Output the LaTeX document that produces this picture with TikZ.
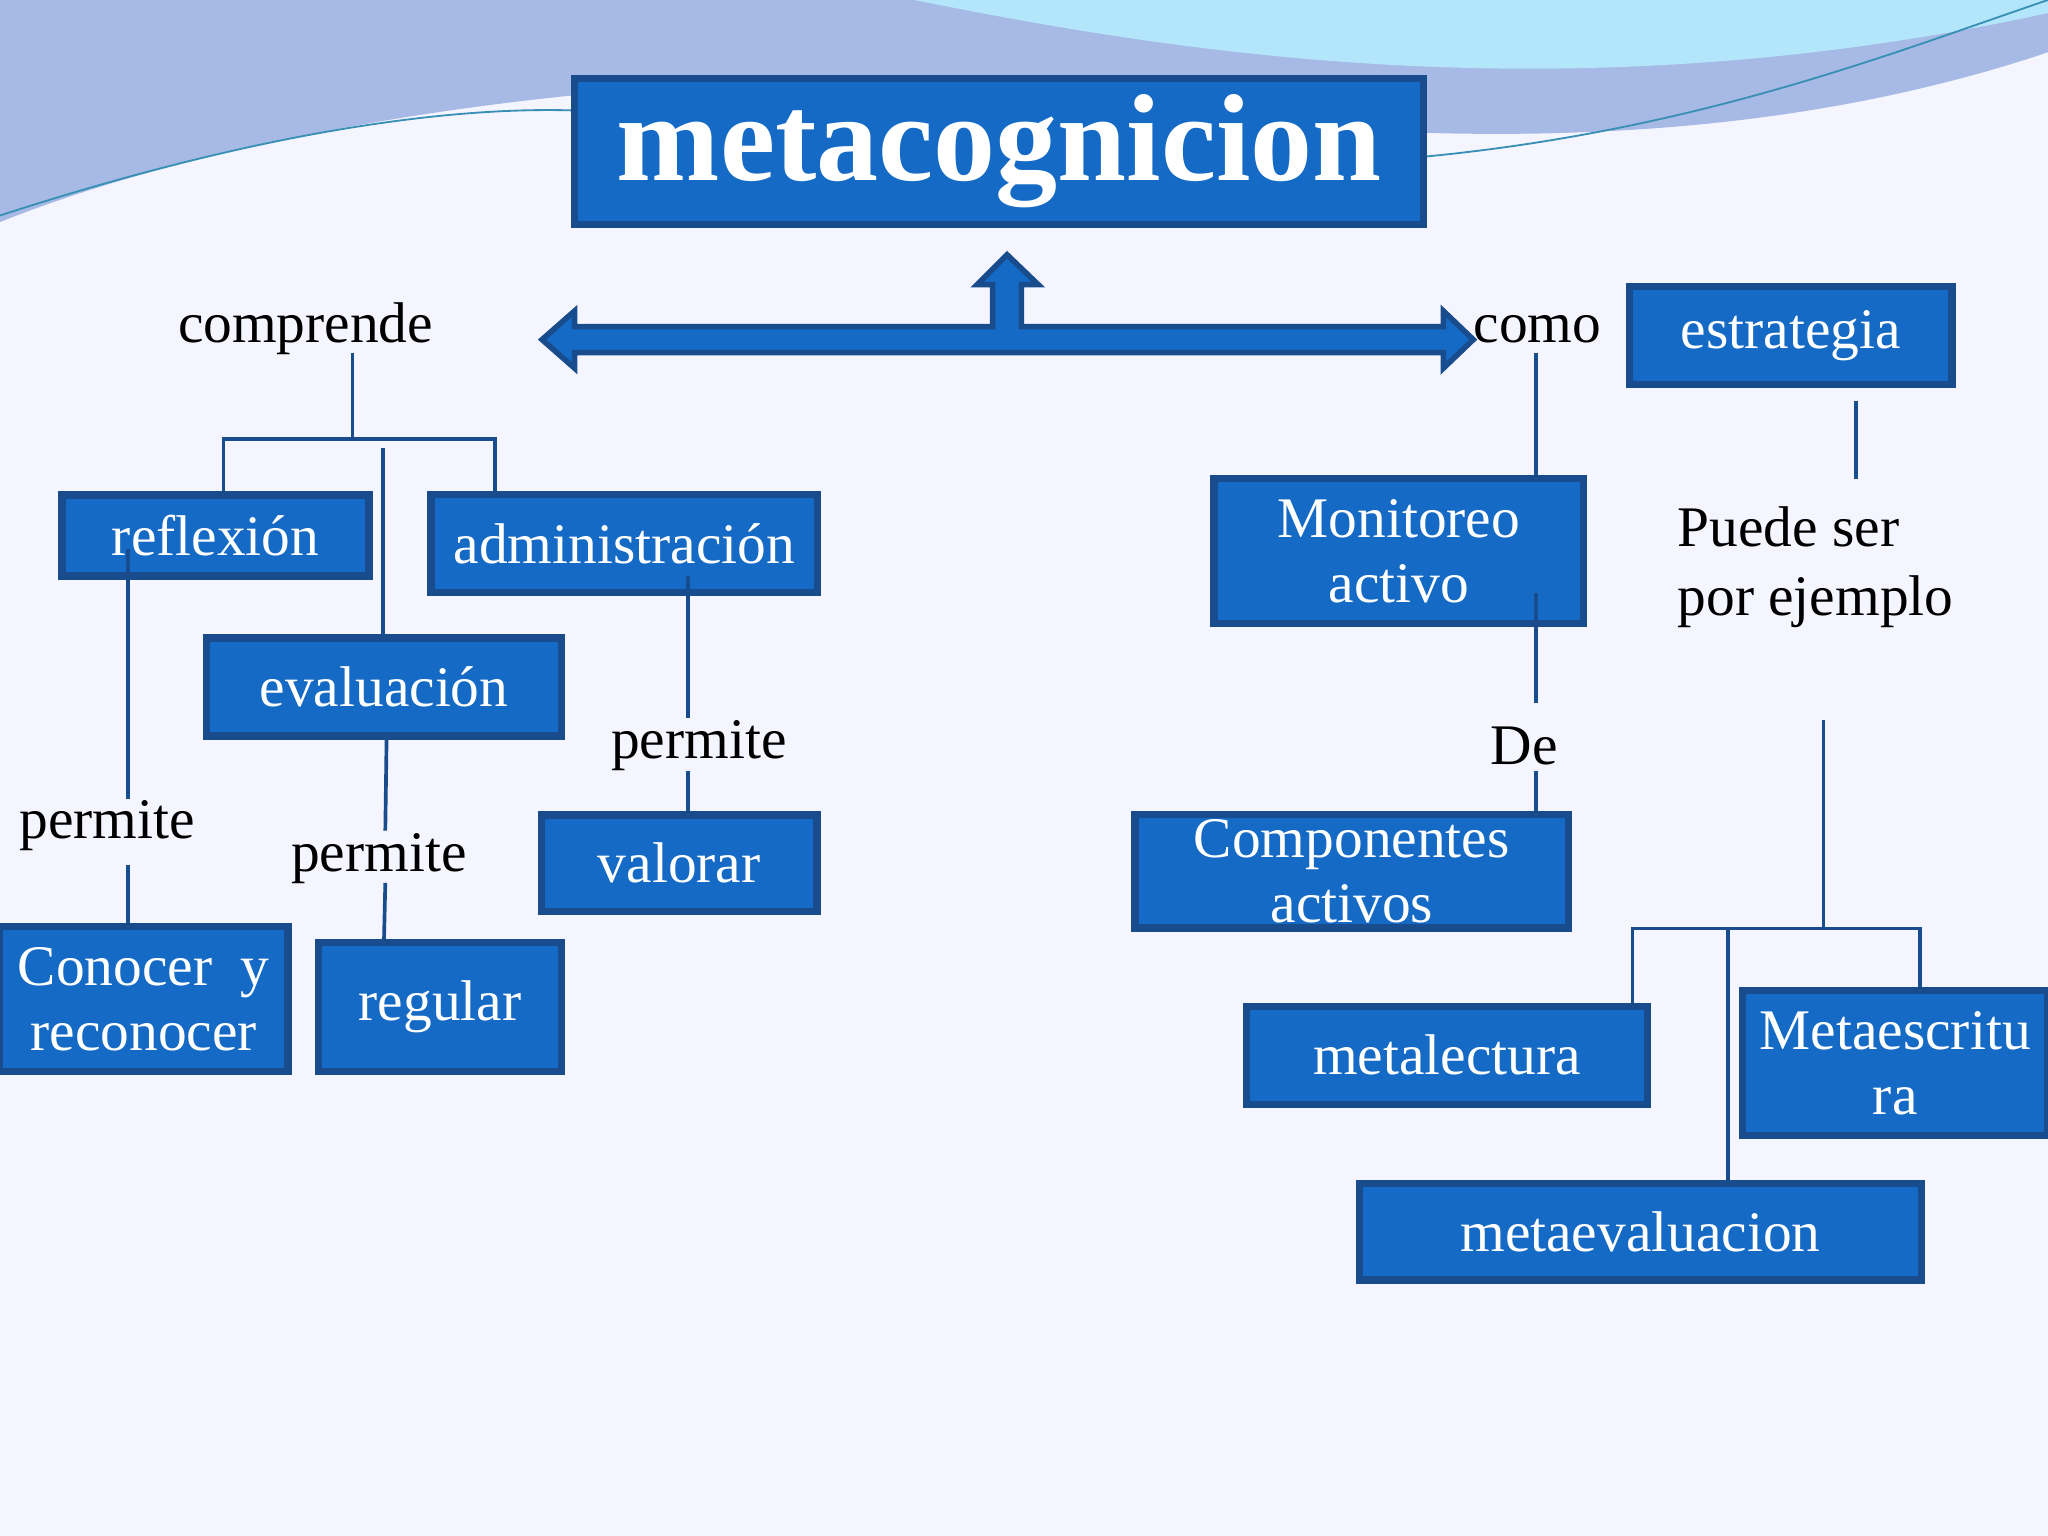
\documentclass[tikz,border=0pt]{standalone}
\usepackage{fontspec}
\setmainfont{Liberation Serif}
\definecolor{boxblue}{RGB}{20,106,196}
\definecolor{boxedge}{RGB}{24,76,140}
\tikzset{
    box/.style={draw=boxedge,line width=1.6pt,fill=boxblue,text=white,align=center,inner sep=0pt,font=\fontsize{12.5}{14}\selectfont},
    lbl/.style={font=\fontsize{12.5}{15}\selectfont,align=left},
    link/.style={draw=boxedge,line width=0.8pt},
    sz/.style 2 args={minimum width=#1*0.01cm,minimum height=#2*0.01cm},
}
\begin{document}
\begin{tikzpicture}[x=0.01cm,y=-0.01cm]
    \useasboundingbox (0,0) rectangle (1568,1176);
    \fill[white!96!blue] (0,0) rectangle (1568,1176);
    % waves at top
    \fill[cyan!45!blue!35] (0,0) -- (1568,0) -- (1568,40) .. controls (1300,130) and (1000,110) .. (700,60) .. controls (400,60) and (150,110) .. (0,170) -- cycle;
    \fill[cyan!30!white] (700,0) .. controls (900,40) and (1200,90) .. (1568,10) -- (1568,0) -- cycle;
    \draw[cyan!70!black,thin] (0,165) .. controls (200,100) and (350,80) .. (450,85);
    \draw[cyan!70!black,thin] (1090,120) .. controls (1300,100) and (1450,40) .. (1568,0);
    \node[box,sz={650}{112},font=\bfseries\fontsize{27}{30}\selectfont] (meta) at (765,116) {metacognicion};
    % arrow
    \fill[boxblue,draw=boxedge,line width=1.2pt] (415,260) -- (440,238) -- (440,250) -- (760,250) -- (760,218) -- (748,218) -- (771,195) -- (795,218) -- (782,218) -- (782,250) -- (1105,250) -- (1105,238) -- (1128,260) -- (1105,282) -- (1105,270) -- (440,270) -- (440,282) -- cycle;
    \node[box,sz={247}{75}] (estr) at (1371,257) {estrategia};
    \node[box,sz={235}{62}] (refl) at (165,410) {reflexión};
    \node[box,sz={296}{75}] (admi) at (478,416) {administración};
    \node[box,sz={272}{75}] (eval) at (294,526) {evaluación};
    \node[box,sz={283}{111}] (moni) at (1071,422) {Monitoreo\\activo};
    \node[box,sz={211}{74}] (valo) at (520,661) {valorar};
    \node[box,sz={332}{87}] (comp) at (1035,667) {Componentes\\activos};
    \node[box,sz={221}{111}] (cono) at (110,765) {Conocer~ y\\reconocer};
    \node[box,sz={186}{99}] (regu) at (337,771) {regular};
    \node[box,sz={307}{75}] (mlec) at (1108,808) {metalectura};
    \node[box,sz={234}{111}] (mesc) at (1451,814) {Metaescritu\\ra};
    \node[box,sz={430}{74}] (meva) at (1256,943) {metaevaluacion};
    % labels
    \node[lbl] (compr) at (234,252) {comprende};
    \node[lbl] (como) at (1177,252) {como};
    \node[lbl] (perm1) at (82,632) {permite};
    \node[lbl] (perm2) at (290,657) {permite};
    \node[lbl] (perm3) at (535,571) {permite};
    \node[lbl] (de) at (1167,571) {De};
    \node[lbl,anchor=west] (puede) at (1272,434) {Puede ser\\por ejemplo};
    % connectors
    \draw[link] (270,270) -- (270,336) (171,379) |- (379,336) -- (379,379);
    \draw[link] (293,343) -- (293,489);
    \draw[link] (98,420) -- (98,612) (98,662) -- (98,710);
    \draw[link] (296,564) -- (295,636) (295,676) -- (294,720);
    \draw[link] (527,441) -- (527,550) (527,590) -- (527,624);
    \draw[link] (1176,270) -- (1176,367) (1176,454) -- (1176,538) (1176,590) -- (1176,624);
    \draw[link] (1421,307) -- (1421,367);
    \draw[link] (1396,551) -- (1396,711) (1250,771) |- (1470,711) -- (1470,759) (1323,711) -- (1323,906);
\end{tikzpicture}
\end{document}
